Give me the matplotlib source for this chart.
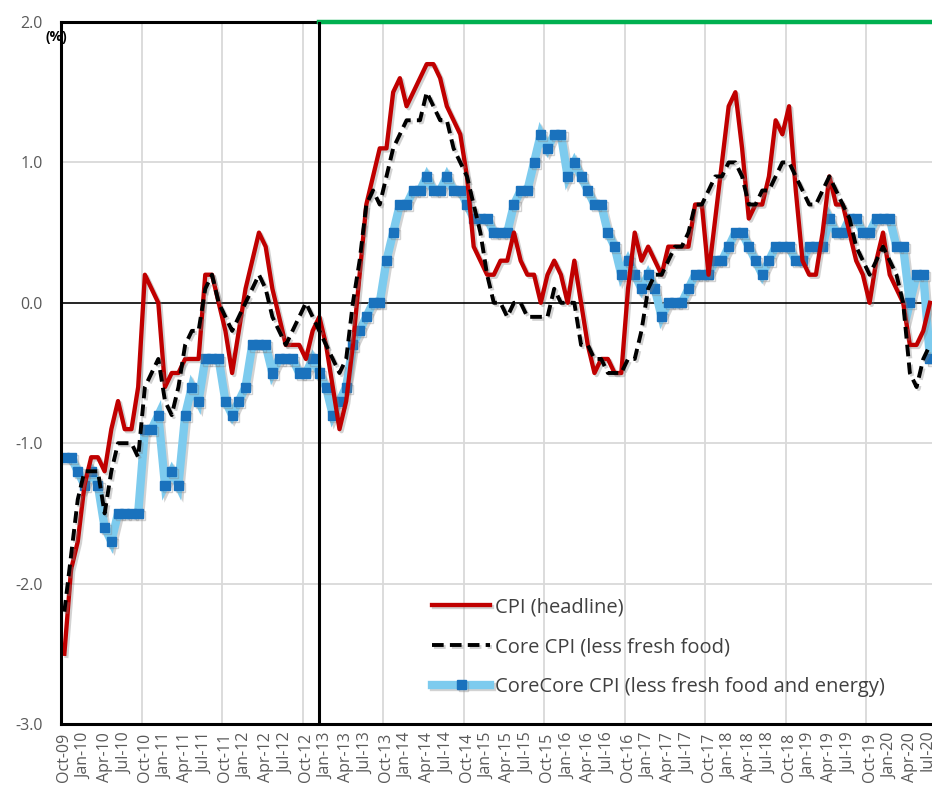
import matplotlib
matplotlib.use("Agg")
import matplotlib.pyplot as plt
import matplotlib.patheffects as pe
import pandas as pd
import numpy as np

# ---- data (monthly, Oct-2009 .. Jul-2020, y/y %) ----
start_month = "2009-10"
cpi_headline = [
    -2.5, -1.9, -1.7, -1.3, -1.1, -1.1, -1.2, -0.9, -0.7, -0.9, -0.9, -0.6,
    0.2, 0.1, 0.0, -0.6, -0.5, -0.5, -0.4, -0.4, -0.4, 0.2, 0.2, 0.0,
    -0.2, -0.5, -0.2, 0.1, 0.3, 0.5, 0.4, 0.1, -0.1, -0.3, -0.3, -0.3,
    -0.4, -0.2, -0.1, -0.3, -0.6, -0.9, -0.7, -0.3, 0.2, 0.7, 0.9, 1.1,
    1.1, 1.5, 1.6, 1.4, 1.5, 1.6, 1.7, 1.7, 1.6, 1.4, 1.3, 1.2,
    0.9, 0.4, 0.3, 0.2, 0.2, 0.3, 0.3, 0.5, 0.3, 0.2, 0.2, 0.0,
    0.2, 0.3, 0.2, 0.0, 0.3, 0.0, -0.3, -0.5, -0.4, -0.4, -0.5, -0.5,
    0.1, 0.5, 0.3, 0.4, 0.3, 0.2, 0.4, 0.4, 0.4, 0.4, 0.7, 0.7,
    0.2, 0.6, 1.0, 1.4, 1.5, 1.1, 0.6, 0.7, 0.7, 0.9, 1.3, 1.2,
    1.4, 0.8, 0.3, 0.2, 0.2, 0.5, 0.9, 0.7, 0.7, 0.5, 0.3, 0.2,
    0.0, 0.3, 0.5, 0.2, 0.1, 0.0, -0.3, -0.3, -0.2, 0.0,
]
core_cpi = [
    -2.2, -1.8, -1.4, -1.2, -1.2, -1.2, -1.5, -1.2, -1.0, -1.0, -1.0, -1.1,
    -0.6, -0.5, -0.4, -0.7, -0.8, -0.6, -0.3, -0.2, -0.2, 0.1, 0.2, 0.0,
    -0.1, -0.2, -0.1, 0.0, 0.1, 0.2, 0.1, -0.1, -0.2, -0.3, -0.2, -0.1,
    0.0, -0.1, -0.2, -0.3, -0.4, -0.5, -0.4, 0.0, 0.3, 0.7, 0.8, 0.7,
    0.9, 1.1, 1.2, 1.3, 1.3, 1.3, 1.5, 1.4, 1.3, 1.3, 1.1, 1.0,
    0.9, 0.7, 0.5, 0.2, 0.0, 0.0, -0.1, 0.0, 0.0, -0.1, -0.1, -0.1,
    -0.1, 0.1, 0.0, 0.0, 0.0, -0.3, -0.3, -0.4, -0.4, -0.5, -0.5, -0.5,
    -0.4, -0.4, -0.2, 0.1, 0.2, 0.2, 0.3, 0.4, 0.4, 0.5, 0.7, 0.7,
    0.8, 0.9, 0.9, 1.0, 1.0, 0.9, 0.7, 0.7, 0.8, 0.8, 0.9, 1.0,
    1.0, 0.9, 0.8, 0.7, 0.7, 0.8, 0.9, 0.8, 0.7, 0.6, 0.4, 0.3,
    0.2, 0.3, 0.4, 0.3, 0.2, 0.0, -0.5, -0.6, -0.4, -0.3,
]
corecore_cpi = [
    -1.1, -1.1, -1.2, -1.3, -1.2, -1.3, -1.6, -1.7, -1.5, -1.5, -1.5, -1.5,
    -0.9, -0.9, -0.8, -1.3, -1.2, -1.3, -0.8, -0.6, -0.7, -0.4, -0.4, -0.4,
    -0.7, -0.8, -0.7, -0.6, -0.3, -0.3, -0.3, -0.5, -0.4, -0.4, -0.4, -0.5,
    -0.5, -0.4, -0.5, -0.6, -0.8, -0.7, -0.6, -0.3, -0.2, -0.1, 0.0, 0.0,
    0.3, 0.5, 0.7, 0.7, 0.8, 0.8, 0.9, 0.8, 0.8, 0.9, 0.8, 0.8,
    0.7, 0.6, 0.6, 0.6, 0.5, 0.5, 0.5, 0.7, 0.8, 0.8, 1.0, 1.2,
    1.1, 1.2, 1.2, 0.9, 1.0, 0.9, 0.8, 0.7, 0.7, 0.5, 0.4, 0.2,
    0.3, 0.2, 0.1, 0.2, 0.1, -0.1, 0.0, 0.0, 0.0, 0.1, 0.2, 0.2,
    0.2, 0.3, 0.3, 0.4, 0.5, 0.5, 0.4, 0.3, 0.2, 0.3, 0.4, 0.4,
    0.4, 0.3, 0.3, 0.4, 0.4, 0.4, 0.6, 0.5, 0.5, 0.6, 0.6, 0.5,
    0.5, 0.6, 0.6, 0.6, 0.4, 0.4, 0.0, 0.2, 0.2, -0.4,
]
labels = ["CPI (headline)", "Core CPI (less fresh food)",
          "CoreCore CPI (less fresh food and energy)"]
abe_index = 38          # Dec-12 marker line
y_ticks = [-3.0, -2.0, -1.0, 0.0, 1.0, 2.0]

n = len(cpi_headline)
months = pd.date_range(start_month, periods=n, freq="MS")
month_labels = [m.strftime("%b-%y") for m in months]
x = np.arange(n)

plt.rcParams["font.family"] = ["Open Sans", "DejaVu Sans"]

W, H = 932, 785
fig = plt.figure(figsize=(W / 100, H / 100), dpi=100)
ax = fig.add_axes([61 / W, 1 - 724 / H, (W - 61) / W, (724 - 22) / H])

ax.set_xlim(-0.5, 129.3)
ax.set_ylim(-3, 2)

# grid
for gx in np.arange(11.5, n, 12):
    ax.axvline(gx, color="#d9d9d9", lw=1.3, zorder=0)
for gy in [1.0, -1.0, -2.0]:
    ax.axhline(gy, color="#d9d9d9", lw=1.3, zorder=0)
ax.axhline(0, color="black", lw=1.2, zorder=1)

shadow = [pe.SimpleLineShadow(offset=(1.5, -1.5), shadow_color="gray", alpha=0.35), pe.Normal()]

l3, = ax.plot(x, corecore_cpi, color="#7dcbee", lw=6.0, marker="s", ms=6.5,
              mfc="#1a72bd", mec="#1a72bd", zorder=2, path_effects=shadow,
              solid_joinstyle="miter")
l1, = ax.plot(x, cpi_headline, color="#c00000", lw=3.1, zorder=3, path_effects=shadow)
l2, = ax.plot(x, core_cpi, color="black", lw=2.8, ls=(0, (3, 1.6)), zorder=4, path_effects=shadow)

# frame
for s in ["top", "right"]:
    ax.spines[s].set_visible(False)
for s in ["left", "bottom"]:
    ax.spines[s].set_linewidth(2.2)
    ax.spines[s].set_color("black")
    ax.spines[s].set_zorder(6)
ax.plot([-0.5, abe_index], [2, 2], color="black", lw=2.2, clip_on=False, zorder=6)
ax.plot([abe_index, 129.3], [2, 2], color="#00b050", lw=3.2, clip_on=False, zorder=6)
ax.axvline(abe_index, color="black", lw=2.2, zorder=6)

# ticks
ax.set_yticks(y_ticks)
ax.set_yticklabels([f"{v:.1f}" for v in y_ticks], fontsize=11.5, color="#595959")
ax.tick_params(axis="y", length=0, pad=13)
ax.set_xticks(x[::3])
ax.set_xticklabels(month_labels[::3], rotation=90, fontsize=11.5, color="#595959")
ax.tick_params(axis="x", length=0, pad=6)

fig.text(46 / W, 1 - 37 / H, "(%)", fontsize=10, fontweight="bold", va="center", ha="left")

leg = ax.legend([l1, l2, l3], labels, loc="center left",
                bbox_to_anchor=(432 / W, 1 - 647 / H), bbox_transform=fig.transFigure,
                frameon=False, fontsize=14.5, handlelength=2.9, handletextpad=0.25,
                labelspacing=0.98, borderpad=0, borderaxespad=0, labelcolor="#404040")

fig.savefig("out.png", dpi=100)
